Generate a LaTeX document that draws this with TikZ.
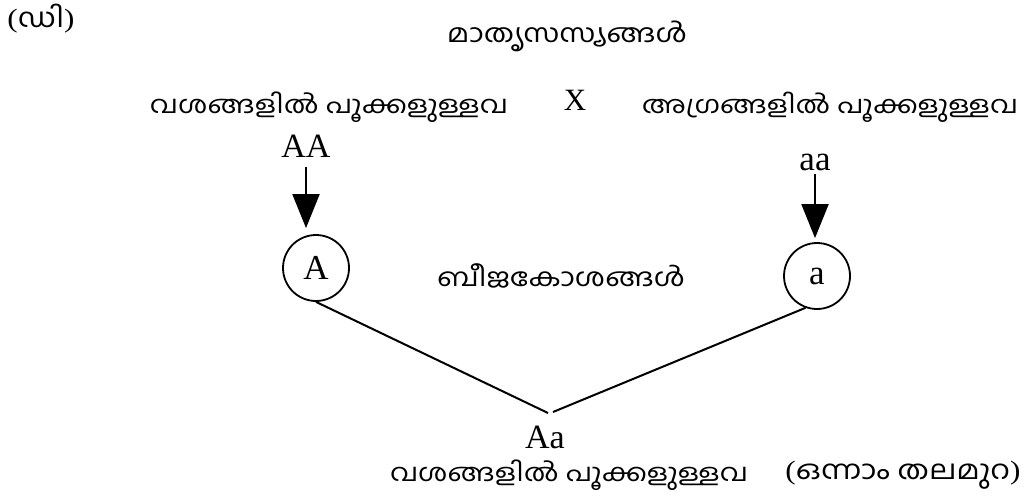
\documentclass[tikz,border=0pt]{standalone}
\usepackage{fontspec}
\usepackage{graphicx}
\setmainfont{Liberation Serif}
\newfontfamily\ml[Script=Malayalam]{Hind Kochi}
\usetikzlibrary{arrows.meta}
\newcommand{\mlw}[2]{\scalebox{1}[0.85]{\resizebox{#1pt}{!}{#2}}}
\newcommand{\fs}[1]{\fontsize{#1pt}{#1pt}\selectfont}
\begin{document}
\begin{tikzpicture}[x=1pt,y=-1pt,
  lab/.style={inner sep=0pt,anchor=base},
  allele/.style={draw,circle,line width=1.8pt,minimum size=66pt,inner sep=0pt,font=\fs{35}},
  down/.style={line width=2pt,-{Triangle[width=27pt,length=34pt]}},
  link/.style={line width=2pt}]
\useasboundingbox (0,0) rectangle (1027,495);
\node[lab] (tag) at (41,28) {\mlw{67}{(\ml ഡി\rm)}};
\node[lab] (parents) at (567,43) {\mlw{240}{\ml മാതൃസസ്യങ്ങൾ}};
\node[lab] (lside) at (329,113) {\mlw{358}{\ml വശങ്ങളിൽ പൂക്കളുള്ളവ}};
\node[lab,font=\fs{31}] (cross) at (575,110) {X};
\node[lab] (rtip) at (830,113) {\mlw{376}{\ml അഗ്രങ്ങളിൽ പൂക്കളുള്ളവ}};
\node[lab,font=\fs{34}] (AA) at (306,157) {AA};
\node[lab,font=\fs{35}] (aa) at (815,170) {aa};
\node[allele] (cA) at (316,268) {A};
\node[allele] (ca) at (817,276) {a};
\node[lab] (gam) at (561,286) {\mlw{248}{\ml ബീജകോശങ്ങൾ}};
\node[lab,font=\fs{34}] (Aa) at (545,448) {Aa};
\node[lab] (bside) at (569,481) {\mlw{358}{\ml വശങ്ങളിൽ പൂക്കളുള്ളവ}};
\node[lab] (gen) at (903,479) {\mlw{235}{(\ml ഒന്നാം തലമുറ\rm)}};
\coordinate (v1) at (548,413);
\coordinate (v2) at (553,412);
\draw[down,shorten <=10pt,shorten >=6pt] (AA.south) -- (AA.south |- cA.north);
\draw[down,shorten <=3pt,shorten >=4pt] (aa.south) -- (aa.south |- ca.north);
\draw[link] (cA.south) -- (v1);
\draw[link] (v2) -- (ca.-110);
\end{tikzpicture}
\end{document}
